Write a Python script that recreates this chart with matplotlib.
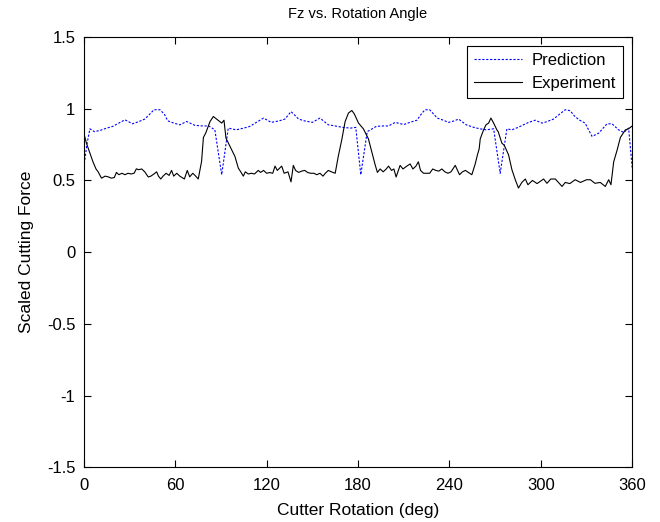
import matplotlib
matplotlib.use("Agg")
import matplotlib.pyplot as plt

plt.rcParams['font.family'] = ['Liberation Sans', 'DejaVu Sans']

pred_deg = [0, 2, 4, 7, 11, 15, 19, 23, 27, 32, 36, 40, 44, 46, 50, 53, 55, 59, 63, 67.5,
            73, 78, 82, 86, 90.5, 94.8, 100, 105, 109, 114, 118, 123, 128, 132, 136, 138,
            141, 145, 150, 155, 160.5, 165, 170, 175, 178.5, 181.8, 186, 192, 196, 200,
            204.4, 210, 214, 218.6, 222, 224, 227, 232, 236, 239.4, 243, 246, 251, 256,
            260, 264, 269, 273.3, 277.7, 281, 285, 288.6, 292, 296.3, 300.7, 304, 308.3,
            312, 316, 319.3, 322, 325, 329, 333.6, 338, 343.4, 346.7, 351, 354.4, 357.6, 360]
pred_val = [0.59, 0.75, 0.86, 0.84, 0.85, 0.865, 0.877, 0.9, 0.923, 0.895, 0.91, 0.928, 0.97,
            0.993, 0.993, 0.96, 0.916, 0.9, 0.888, 0.911, 0.884, 0.88, 0.88, 0.853, 0.54,
            0.865, 0.853, 0.865, 0.877, 0.91, 0.935, 0.905, 0.915, 0.928, 0.98, 0.96, 0.928,
            0.915, 0.905, 0.935, 0.888, 0.88, 0.87, 0.865, 0.87, 0.54, 0.84, 0.877, 0.88,
            0.88, 0.905, 0.89, 0.905, 0.92, 0.97, 0.993, 0.993, 0.935, 0.92, 0.905, 0.915,
            0.928, 0.888, 0.87, 0.86, 0.853, 0.86, 0.55, 0.86, 0.853, 0.87, 0.888, 0.905,
            0.92, 0.9, 0.91, 0.928, 0.96, 0.993, 0.986, 0.95, 0.923, 0.9, 0.807, 0.83, 0.895,
            0.895, 0.853, 0.835, 0.865, 0.58]

exp_deg = [0, 1.7, 4, 6, 8, 9.4, 11.6, 14, 16, 18, 20, 21.4, 23, 25, 27, 29, 31, 33, 34.5,
           36, 38, 40, 42.3, 44, 46, 47.8, 49, 50.5, 52, 54, 56, 57.6, 59, 61, 63, 66, 67.9,
           69.5, 71.5, 73, 75.1, 77.3, 78.5, 80, 82.8, 85, 88.3, 90.5, 92, 93.3, 96, 99.2,
           101.4, 103, 104.7, 106, 108, 110, 112, 114.5, 116, 118, 120, 122, 124, 125.5, 127,
           129.9, 131.5, 134, 136, 137.5, 139, 141, 143, 145, 147, 149, 151, 152.9, 155, 157,
           158.5, 160.5, 162.5, 165, 167, 169.3, 171.5, 173.7, 175.9, 177.5, 180.3, 183.5,
           186.8, 189, 191.2, 192.7, 194.5, 196.5, 198.5, 200, 202, 203.5, 205, 207.6, 209.5,
           212, 214.2, 216, 218, 219.6, 221, 223, 225, 227, 229, 231, 233, 235, 237, 239, 241,
           243.8, 246.6, 248.5, 250.5, 252.5, 254.7, 256.9, 258.4, 259.5, 260.2, 262.4, 264,
           265.7, 267.2, 269, 271.1, 272, 274.4, 276, 278.8, 281, 283.2, 285.3, 287.5, 289.8,
           291.5, 294.5, 297.5, 301.8, 304, 306.5, 309.5, 313.9, 316, 319, 322.5, 326, 330,
           332.5, 335.5, 339, 342.3, 344.5, 346, 347.8, 350, 352.2, 355.5, 357.5, 360]
exp_val = [0.83, 0.76, 0.69, 0.63, 0.58, 0.56, 0.516, 0.53, 0.525, 0.516, 0.52, 0.556, 0.54,
           0.55, 0.54, 0.55, 0.545, 0.55, 0.581, 0.575, 0.58, 0.56, 0.524, 0.53, 0.545, 0.56,
           0.53, 0.51, 0.53, 0.55, 0.535, 0.57, 0.53, 0.55, 0.53, 0.51, 0.57, 0.525, 0.55,
           0.535, 0.51, 0.633, 0.8, 0.83, 0.91, 0.946, 0.918, 0.9, 0.92, 0.795, 0.737, 0.667,
           0.586, 0.56, 0.53, 0.56, 0.545, 0.55, 0.545, 0.57, 0.556, 0.57, 0.55, 0.555, 0.55,
           0.6, 0.57, 0.6, 0.55, 0.56, 0.49, 0.605, 0.57, 0.556, 0.565, 0.57, 0.555, 0.55,
           0.55, 0.54, 0.55, 0.53, 0.55, 0.57, 0.56, 0.55, 0.667, 0.783, 0.91, 0.97, 0.988,
           0.965, 0.9, 0.86, 0.79, 0.70, 0.61, 0.556, 0.58, 0.56, 0.58, 0.6, 0.57, 0.58, 0.524,
           0.605, 0.58, 0.6, 0.615, 0.58, 0.6, 0.63, 0.57, 0.55, 0.55, 0.55, 0.58, 0.57, 0.565,
           0.58, 0.56, 0.55, 0.56, 0.605, 0.54, 0.56, 0.57, 0.555, 0.54, 0.615, 0.68, 0.72,
           0.79, 0.853, 0.888, 0.9, 0.935, 0.9, 0.853, 0.84, 0.76, 0.745, 0.678, 0.575, 0.505,
           0.447, 0.486, 0.51, 0.47, 0.5, 0.478, 0.51, 0.48, 0.51, 0.51, 0.458, 0.486, 0.478,
           0.505, 0.486, 0.505, 0.505, 0.48, 0.486, 0.458, 0.505, 0.47, 0.63, 0.71, 0.8,
           0.853, 0.86, 0.88]

x_ticks = [0, 60, 120, 180, 240, 300, 360]
y_ticks = [-1.5, -1, -0.5, 0, 0.5, 1, 1.5]
y_labels = ['-1.5', '-1', '-0.5', '0', '0.5', '1', '1.5']

fig = plt.figure(figsize=(6.6, 5.22), dpi=100)
ax = fig.add_axes([0.127, 0.105, 0.831, 0.824])

ax.plot(pred_deg, pred_val, color='#0000ff', linestyle=(0, (2.0, 1.5)), linewidth=0.8,
        label='Prediction')
ax.plot(exp_deg, exp_val, color='black', linestyle='-', linewidth=0.8, label='Experiment')

ax.set_xlim(0, 360)
ax.set_ylim(-1.5, 1.5)
ax.set_xticks(x_ticks)
ax.set_yticks(y_ticks)
ax.set_yticklabels(y_labels)
ax.tick_params(direction='in', top=True, right=True, length=5, width=0.8, labelsize=12)
ax.tick_params(axis='x', pad=8)
ax.tick_params(axis='y', pad=6)
for s in ax.spines.values():
    s.set_linewidth(0.8)

ax.set_title('Fz vs. Rotation Angle', fontsize=10.5, pad=14)
ax.set_xlabel('Cutter Rotation (deg)', fontsize=12.5, labelpad=7)
ax.set_ylabel('Scaled Cutting Force', fontsize=12.5, labelpad=9)

leg = ax.legend(loc='upper right', fontsize=12, fancybox=False, edgecolor='black',
                framealpha=1, borderaxespad=0.55, handlelength=2.9, borderpad=0.4,
                labelspacing=0.5, handletextpad=0.6)
leg.get_frame().set_linewidth(0.8)

fig.savefig('out.png', dpi=100, facecolor='white')
